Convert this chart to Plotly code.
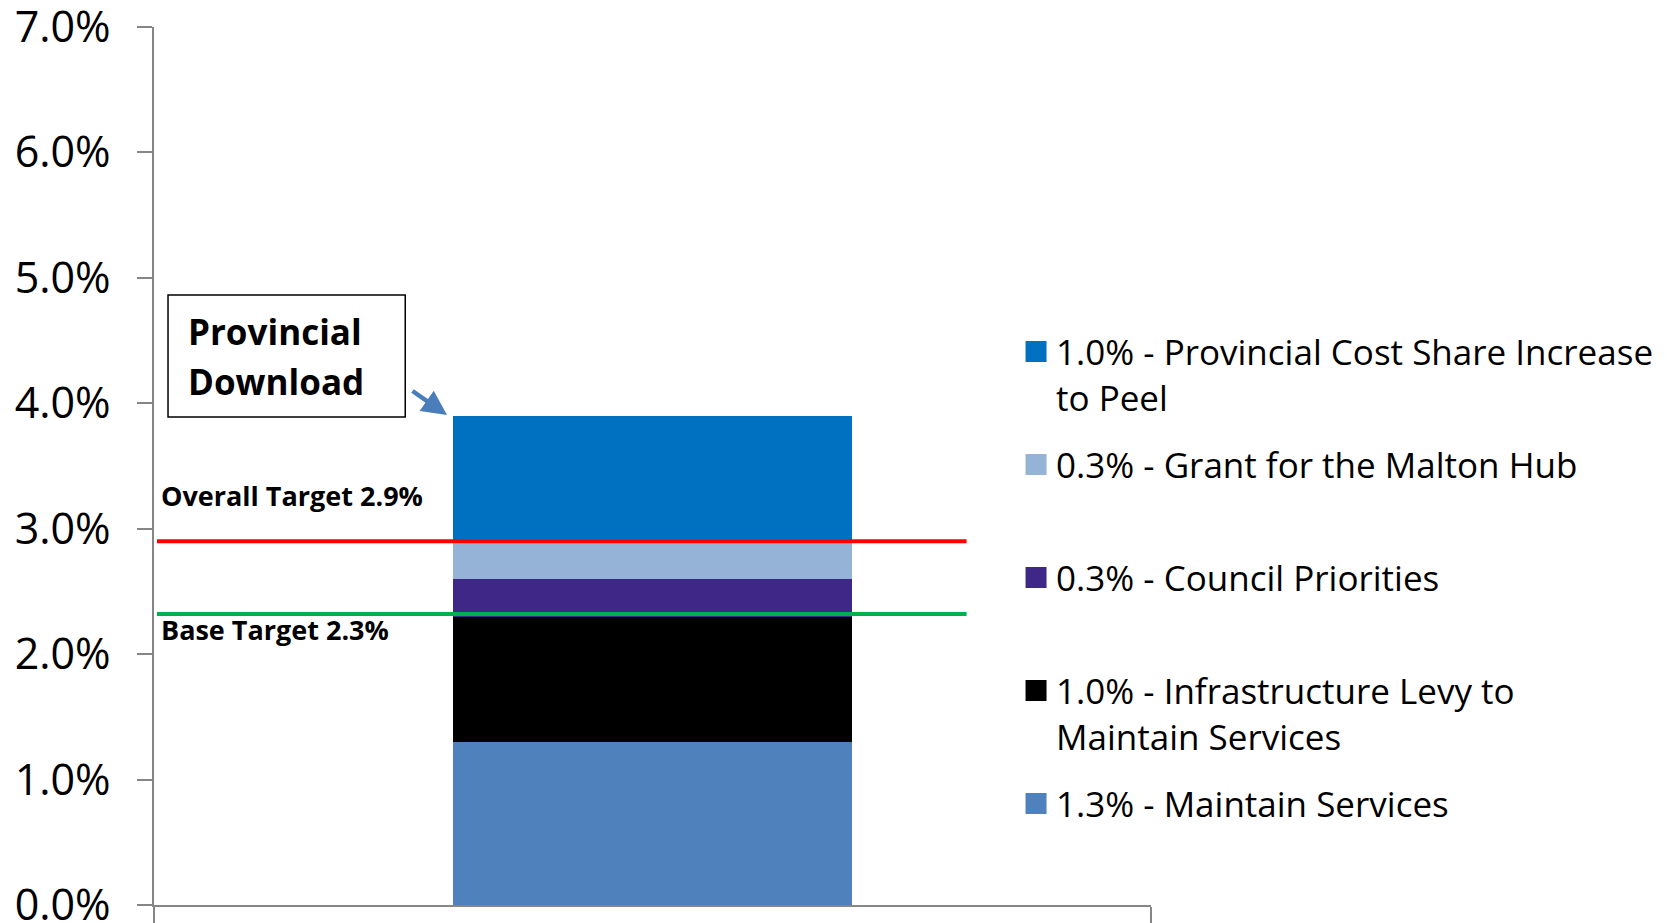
import plotly.graph_objects as go

# ---- data ----
categories = ["2020 Budget"]
series_names = [
    "1.3% - Maintain Services",
    "1.0% - Infrastructure Levy to Maintain Services",
    "0.3% - Council Priorities",
    "0.3% - Grant for the Malton Hub",
    "1.0% - Provincial Cost Share Increase to Peel",
]
legend_labels = [
    "1.3% - Maintain Services<br> ",
    "1.0% - Infrastructure Levy to<br>Maintain Services",
    "0.3% - Council Priorities<br> ",
    "0.3% - Grant for the Malton Hub<br> ",
    "1.0% - Provincial Cost Share Increase<br>to Peel",
]
series_values = [1.3, 1.0, 0.3, 0.3, 1.0]
series_colors = ["#4F81BD", "#000000", "#3F2788", "#95B3D7", "#0070C0"]

overall_target = 2.9
overall_label = "Overall Target 2.9%"
base_target = 2.32
base_label = "Base Target 2.3%"
callout_lines = ["Provincial", "Download"]

y_ticks = [0, 1, 2, 3, 4, 5, 6, 7]
y_tick_text = ["0.0%", "1.0%", "2.0%", "3.0%", "4.0%", "5.0%", "6.0%", "7.0%"]

FONT = "Open Sans"
AXIS_GRAY = "#868686"

fig = go.Figure()
n = len(series_names)
for i, (name, lab, val, col) in enumerate(zip(series_names, legend_labels, series_values, series_colors)):
    rank = (n - i) * 10
    fig.add_trace(go.Bar(
        x=categories, y=[val], name=name, legendgroup=name, legendrank=rank,
        marker=dict(color=col, line=dict(width=0)), width=0.4,
        showlegend=False, hoverinfo="name+y",
    ))
    fig.add_trace(go.Scatter(
        x=[None], y=[None], mode="markers", name=lab, legendgroup=name, legendrank=rank,
        marker=dict(symbol="square", size=16, color=col, line=dict(width=5, color=col)),
        showlegend=True, hoverinfo="skip",
    ))

fig.update_layout(
    barmode="stack",
    width=1667, height=923,
    margin=dict(l=154, r=516, t=27, b=18, autoexpand=False),
    paper_bgcolor="white", plot_bgcolor="white",
    font=dict(family=FONT, color="black"),
    legend=dict(
        x=0.6095, y=0.651, xref="container", yref="container",
        xanchor="left", yanchor="top",
        font=dict(family=FONT, size=35, color="black"),
        valign="top", traceorder="grouped", tracegroupgap=19,
        bgcolor="rgba(0,0,0,0)", maxheight=900,
    ),
    xaxis=dict(
        type="category", tickson="boundaries", ticks="outside", ticklen=20,
        tickwidth=1.5, tickcolor=AXIS_GRAY, showticklabels=False,
        showline=True, linecolor=AXIS_GRAY, linewidth=1.5, showgrid=False,
        zeroline=False,
    ),
    yaxis=dict(
        range=[0, 7], tickmode="array", tickvals=y_ticks, ticktext=y_tick_text,
        ticks="outside", ticklen=15, tickwidth=1.5, tickcolor=AXIS_GRAY,
        showline=True, linecolor=AXIS_GRAY, linewidth=1.5, showgrid=False,
        zeroline=False, tickfont=dict(family=FONT, size=43, color="black"),
        ticklabelstandoff=18, ticklabeloverflow="allow",
    ),
    showlegend=True,
)

# target lines
fig.add_shape(type="line", xref="x", yref="y", x0=-0.497, x1=0.315,
              y0=overall_target, y1=overall_target, line=dict(color="#FF0000", width=4))
fig.add_shape(type="line", xref="x", yref="y", x0=-0.497, x1=0.315,
              y0=base_target, y1=base_target, line=dict(color="#00B050", width=4))

# callout box
fig.add_shape(type="rect", xref="paper", yref="y", x0=0.01406, x1=0.252,
              y0=3.891, y1=4.863, line=dict(color="black", width=1.5))

fig.add_annotation(text=overall_label, xref="paper", yref="y", x=0.005, y=overall_target,
                   yshift=46, xanchor="left", yanchor="middle", showarrow=False,
                   font=dict(family=FONT, size=27, weight="bold", color="black"))
fig.add_annotation(text=base_label, xref="paper", yref="y", x=0.005, y=base_target,
                   yshift=-15, xanchor="left", yanchor="middle", showarrow=False,
                   font=dict(family=FONT, size=27, weight="bold", color="black"))
for line_text, ypos in zip(callout_lines, [4.571, 4.172]):
    fig.add_annotation(text=line_text, xref="paper", yref="y", x=0.0321, y=ypos,
                       xanchor="left", yanchor="middle", align="left", showarrow=False,
                       font=dict(family=FONT, size=35, weight="bold", color="black"))
fig.add_annotation(text="", xref="x", yref="y", x=-0.2061, y=3.907,
                   ax=-36, ay=-25, axref="pixel", ayref="pixel", showarrow=True,
                   arrowhead=2, arrowsize=1.1, arrowwidth=4.5, arrowcolor="#4A7EBB", standoff=0)

fig.write_html("out.html", config={"displayModeBar": False},
               post_script="document.body.style.margin='0';")
